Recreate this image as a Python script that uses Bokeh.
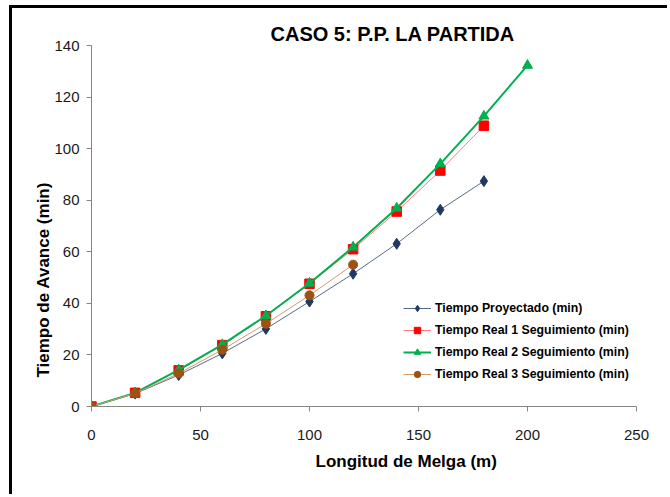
from bokeh.embed import file_html
from bokeh.models import FixedTicker, Legend, LegendItem, Range1d, Title
from bokeh.plotting import figure
from bokeh.resources import INLINE

# Field-length positions (m) for each series
longitud = [0, 20, 40, 60, 80, 100, 120, 140, 160, 180]
longitud_real2 = [0, 20, 40, 60, 80, 100, 120, 140, 160, 180, 200]
longitud_real3 = [0, 20, 40, 60, 80, 100, 120]

# Advance times (min)
tiempo_proyectado = [0, 5.0, 12.2, 20.6, 30.1, 40.7, 51.5, 63.1, 76.3, 87.4]
tiempo_real1 = [0, 5.3, 14.0, 23.8, 35.0, 47.6, 61.0, 75.6, 91.5, 108.9]
tiempo_real2 = [0, 5.3, 14.2, 24.0, 35.2, 47.8, 61.8, 76.9, 94.1, 112.6, 132.3]
tiempo_real3 = [0, 5.1, 12.8, 22.0, 32.1, 43.1, 55.0]

x_ticks = [0, 50, 100, 150, 200, 250]
y_ticks = [0, 20, 40, 60, 80, 100, 120, 140]

titulo = "CASO 5: P.P. LA PARTIDA"
eje_x = "Longitud de Melga (m)"
eje_y = "Tiempo de Avance (min)"
nombres = [
    "Tiempo Proyectado (min)",
    "Tiempo Real 1 Seguimiento (min)",
    "Tiempo Real 2 Seguimiento (min)",
    "Tiempo Real 3 Seguimiento (min)",
]

FONT = "Liberation Sans"
AXIS_GREY = "#868686"

p = figure(
    width=658,
    height=489,
    x_range=Range1d(0, 250),
    y_range=Range1d(0, 140),
    output_backend="svg",
    toolbar_location=None,
    min_border_left=79,
    min_border_right=34,
    min_border_top=37,
    min_border_bottom=91,
    margin=(5, 0, 0, 9),
    styles={"border-top": "3px solid black", "border-left": "3px solid black"},
)
p.outline_line_color = None
p.xgrid.visible = False
p.ygrid.visible = False
p.background_fill_color = "white"
p.border_fill_color = "white"

for ax in (p.xaxis[0], p.yaxis[0]):
    ax.axis_line_color = AXIS_GREY
    ax.major_tick_line_color = AXIS_GREY
    ax.minor_tick_line_color = None
    ax.major_tick_in = 0
    ax.major_tick_out = 5
    ax.major_label_text_font = FONT
    ax.major_label_text_font_size = "15px"
    ax.major_label_text_color = "#1a1a1a"

p.xaxis.ticker = FixedTicker(ticks=x_ticks)
p.yaxis.ticker = FixedTicker(ticks=y_ticks)
p.xaxis.major_label_standoff = 18
p.yaxis.major_label_standoff = 7

# Series: line + marker
r_p_line = p.line(longitud, tiempo_proyectado, line_color="#1F3A60", line_width=1, line_alpha=0.75)
r_p_mark = p.scatter(longitud, tiempo_proyectado, marker="diamond", size=11,
                     fill_color="#1F3864", line_color="#1F3864")

r_1_line = p.line(longitud, tiempo_real1, line_color="#FF7C80", line_width=1)
r_1_mark = p.scatter(longitud, tiempo_real1, marker="square", size=9.5,
                     fill_color="#FF0000", line_color="#FF0000")

r_2_line = p.line(longitud_real2, tiempo_real2, line_color="#00B050", line_width=2)
r_2_mark = p.scatter(longitud_real2, tiempo_real2, marker="triangle", size=10,
                     fill_color="#00B050", line_color="#00B050")

r_3_line = p.line(longitud_real3, tiempo_real3, line_color="#D29B6E", line_width=1)
r_3_mark = p.scatter(longitud_real3, tiempo_real3, marker="circle", size=9,
                     fill_color="#9C5211", line_color="#9C5211")

legend = Legend(
    items=[
        LegendItem(label=nombres[0], renderers=[r_p_line, r_p_mark]),
        LegendItem(label=nombres[1], renderers=[r_1_line, r_1_mark]),
        LegendItem(label=nombres[2], renderers=[r_2_line, r_2_mark]),
        LegendItem(label=nombres[3], renderers=[r_3_line, r_3_mark]),
    ],
    location=(312, 24),
    glyph_width=28,
    glyph_height=16,
    label_height=16,
    label_standoff=4,
    spacing=6,
    padding=0,
    margin=0,
    border_line_alpha=0,
    background_fill_alpha=0,
    label_text_font=FONT,
    label_text_font_size="12.3px",
    label_text_font_style="bold",
    label_text_color="black",
)
p.add_layout(legend, "center")

# Chart title and axis titles as side-panel titles
p.add_layout(Title(text=titulo, align="left", offset=179, standoff=1,
                   text_font=FONT, text_font_size="20px", text_font_style="bold",
                   text_color="black"), "above")
p.add_layout(Title(text=eje_x, align="left", offset=224, standoff=14,
                   text_font=FONT, text_font_size="17px", text_font_style="bold",
                   text_color="black"), "below")
p.add_layout(Title(text=eje_y, align="left", offset=29, standoff=-2,
                   text_font=FONT, text_font_size="17px", text_font_style="bold",
                   text_color="black"), "left")

open("out.html", "w").write(file_html(p, INLINE))
